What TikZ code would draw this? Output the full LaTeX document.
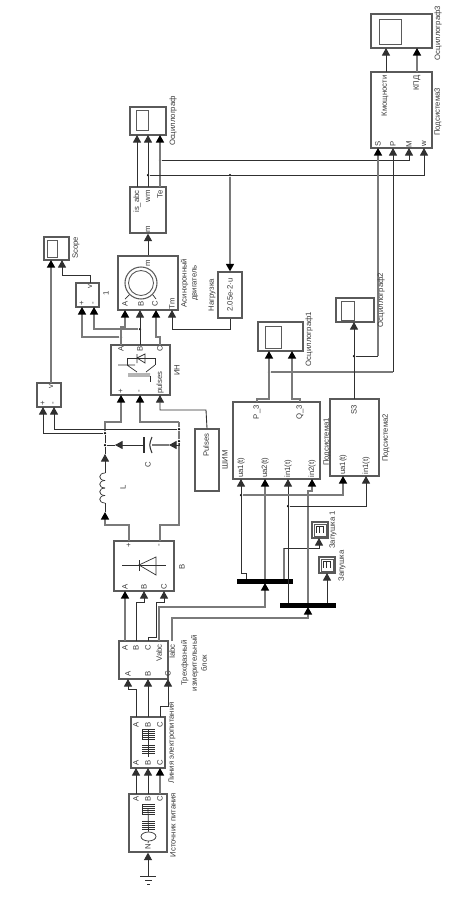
\documentclass[tikz,border=0pt]{standalone}
\usepackage{fontspec}
\setmainfont{Liberation Sans}
\usetikzlibrary{positioning,arrows.meta,fit,calc,shapes.geometric}
\definecolor{wire900}{HTML}{303030}
\definecolor{wire500}{HTML}{7A7A7A}
\definecolor{edge600}{HTML}{5A5A5A}
\definecolor{text800}{HTML}{3A3A3A}
\tikzset{
  blk/.style   ={draw=edge600, line width=0.7pt, fill=white, inner sep=0pt},
  scr/.style   ={draw=edge600, line width=0.5pt, fill=white, inner sep=0pt},
  barb/.style  ={draw=black, fill=black, inner sep=0pt},
  ar/.style    ={-{Triangle[length=1.5mm,width=1.6mm]}, draw=wire900, line width=0.5pt},
  arg/.style   ={-{Triangle[length=1.5mm,width=1.6mm,color=black]}, draw=wire500, line width=0.8pt},
  wr/.style    ={draw=wire900, line width=0.5pt},
  wrg/.style   ={draw=wire500, line width=0.8pt},
  sym/.style   ={draw=wire900, line width=0.4pt},
  jun/.style   ={circle, fill=black, inner sep=0pt, minimum size=0.5mm},
  lbl/.style   ={font=\fontsize{4.4}{5.7}\selectfont, text=text800, rotate=90, inner sep=0pt, align=center}
}
\begin{document}
\begin{tikzpicture}[x=0.2mm,y=-0.2mm]
\useasboundingbox (0,0) rectangle (453,903);
\fill[white] (0,0) rectangle (453,903);

% blocks, bottom of the page first
\node[blk,fit={(129,794)(167,852)}] (source) {};
\node[blk,fit={(131,717)(165,768)}] (line) {};
\node[blk,fit={(119,641)(168,679)}] (meas) {};
\node[blk,fit={(114,541)(174,591)}] (rect) {};
\node[blk,fit={(111,345)(170,395)}] (inv) {};
\node[blk,fit={(195,429)(219,491)}] (pwm) {};
\node[blk,fit={(118,256)(178,310)}] (motor) {};
\node[blk,fit={(130,187)(166,233)}] (dmux) {};
\node[blk,fit={(218,272)(242,318)}] (load) {};
\node[blk,fit={(76,283)(99,307)}] (vm1) {};
\node[blk,fit={(37,383)(61,407)}] (vm2) {};
\node[blk,fit={(233,402)(320,479)}] (sub1) {};
\node[blk,fit={(330,399)(379,476)}] (sub2) {};
\node[blk,fit={(371,72)(432,148)}] (sub3) {};
\node[barb,fit={(237,579)(292,583)}] (bus1) {};
\node[barb,fit={(280,603)(335,607)}] (bus2) {};

% scopes
\node[blk,fit={(44,237)(69,260)}] (scope) {};
\node[scr,fit={(47,240)(57,257)}] (scopes) {};
\node[blk,fit={(130,107)(166,135)}] (osc) {};
\node[scr,fit={(136,110)(148,130)}] (oscs) {};
\node[blk,fit={(258,322)(303,351)}] (osc1) {};
\node[scr,fit={(265,326)(281,348)}] (osc1s) {};
\node[blk,fit={(336,298)(374,322)}] (osc2) {};
\node[scr,fit={(341,301)(354,320)}] (osc2s) {};
\node[blk,fit={(371,14)(432,48)}] (osc3) {};
\node[scr,fit={(379,19)(401,44)}] (osc3s) {};
\node[blk,fit={(312,522)(328,538)}] (zap1) {};
\node[scr,fit={(314,524)(326,536)}] (zap1s) {};
\node[blk,fit={(319,557)(335,573)}] (zap) {};
\node[scr,fit={(321,559)(333,571)}] (zaps) {};
\foreach \xa in {316,319.5,323} \draw[sym] (\xa,526) -- (\xa,533);
\draw[sym] (316,526) -- (323,526);
\foreach \xa in {323,326.5,330} \draw[sym] (\xa,561) -- (\xa,568);
\draw[sym] (323,561) -- (330,561);

% junctions
\node[jun] (jTe) at (160,160) {};
\node[jun] (jwm) at (148,175) {};
\node[jun] (jload) at (230,175) {};
\node[jun] (jA) at (121,337) {};
\node[jun] (jB) at (140,329) {};
\node[jun] (jP) at (269,372) {};
\node[jun] (jS) at (354,356) {};
\node[jun] (jua) at (241,495) {};
\node[jun] (jia) at (288,506) {};
\node[jun] (jplus) at (105,433) {};
\node[jun] (jcap) at (105,445) {};
\node[jun] (jminus) at (179,429) {};
\node[jun] (jcapn) at (179,441) {};

% ground and source
\coordinate (gnd) at (148,876);
\draw[sym] (140,876) -- (156,876) (145,880) -- (152,880) (147,884) -- (150,884);
\draw[ar] (gnd) -- (source.south);
\draw[ar] (136,794) -- (136,768);
\draw[ar] (148,794) -- (148,768);
\draw[arg] (160,794) -- (160,768);
\draw[ar] (136,717) -- (136,689) -| (128,679);
\draw[ar] (148,717) -- (148,679);
\draw[ar] (160,717) -- (160,706) -| (168,679);
\draw[arg] (125,641) -- (125,591);
\draw[ar] (136,641) -- (136,602) -| (144,591);
\draw[ar] (148,641) -- (148,637) -| (156,602) -| (164,591);
\draw[arg] (159,641) -- (159,607) -| (265,583);
\draw[arg] (172,641) -- (172,618) -| (308,607);

% source and line symbols
\node[draw=wire900,line width=0.4pt,ellipse,minimum width=3mm,minimum height=1.8mm,inner sep=0pt,fill=white] (emf) at (148.5,836.5) {};
\draw[sym] (148,843) -- (emf.south) (emf.north) -- (148,808);
\draw[sym] (148,729) -- (148,757);
\foreach \ya in {821,823,825,827,829} \draw[sym] (142,\ya) -- (155,\ya);
\foreach \ya in {804,806,808,810,812,814} \draw[sym] (142,\ya) -- (155,\ya);
\draw[sym] (142,804) -- (142,814);
\foreach \ya in {745,747,749,751,753} \draw[sym] (142,\ya) -- (155,\ya);
\foreach \ya in {729,731,733,735,737,739} \draw[sym] (142,\ya) -- (155,\ya);
\draw[sym] (142,729) -- (142,739);

% rectifier symbol
\draw[sym] (122,565) -- (166,565) (139,560) -- (139,571);
\draw[sym] (139,565) -- (156,557) -- (156,575) -- cycle;

% dc link
\coordinate (Ltop) at (105,473);
\coordinate (Lbot) at (105,503);
\draw[arg] (129,541) -- (129,525) -| (105,512);
\draw[wr] (105,512) -- (Lbot);
\foreach \ya in {473,480.5,488,495.5}
  \draw[sym] (105,\ya) .. controls (98,\ya) and (98,\ya+7.5) .. (105,\ya+7.5);
\draw[ar] (Ltop) -- (105,454);
\draw[wr] (105,454) -- (jcap) -- (jplus);
\draw[arg] (jplus) -- (105,422) -| (121,395);
\draw[wrg] (160,541) -- (160,525) -| (jcapn);
\draw[wrg] (jcapn) -- (jminus) -- (179,422);
\draw[arg] (179,422) -| (140,395);
\draw[ar] (pwm.north) -- (206,410) -| (160,395);
\draw[ar] (jcapn) -- (179,445) -- (169,445);
\draw[wrg] (169,445) -- (152,445);
\draw[ar] (144,445) -- (115,445);
\draw[wr] (115,445) -- (jcap);
\draw[sym,line width=0.6pt] (144,437) -- (144,453);
\draw[sym,line width=0.6pt] (152,437) .. controls (149,445) .. (152,453);

% voltmeters
\draw[ar] (jplus) -- (43,433) -- (43,407);
\draw[wr] (jminus) -- (54,429);
\draw[ar] (54,429) -- (54,407);
\draw[arg] (51,383) -- (51,260);
\draw[ar] (90,283) -- (90,275) -| (62,260);
\draw[arg] (jA) -| (82,307);
\draw[arg] (jB) -| (94,307);

% inverter to motor
\draw[arg] (121,345) -- (121,327) -| (125,310);
\draw[ar] (140,345) -- (140,310);
\draw[arg] (160,345) -- (160,337) -| (156,310);
\draw[ar] (load.south) -- (230,329) -| (172,310);
\draw[ar] (motor.north) -- (dmux.south);

% inverter symbol
\draw[sym] (127,365) -- (127,358) -- (155,358) -- (155,365);
\draw[sym] (137,354) -- (137,363) (137,358) -- (145,354) -- (145,363) -- cycle;
\draw[sym] (118,365) -- (135,365) (127,365) -- (137,372);
\draw[sym] (155,365) -- (146,372) (128,374) -- (150,374) (128,376) -- (150,376);
\draw[sym] (150,376) -- (150,382);

% motor symbol
\node[draw=edge600,circle,line width=0.6pt,minimum size=6.4mm,inner sep=0pt] (rotor) at (141,283) {};
\node[draw=edge600,circle,line width=0.5pt,minimum size=5mm,inner sep=0pt] (stator) at (141,283) {};
\draw[sym] (125,299) -- (rotor.south west) (156,299) -- (rotor.south east);

% outputs of the motor measurement
\draw[ar] (137,187) -- (137,135);
\draw[ar] (148,187) -- (148,135);
\draw[arg] (160,187) -- (160,135);
\draw[ar] (jTe) -| (409,148);
\draw[ar] (jwm) -| (424,148);
\draw[arg] (jload) -- (load.north);

% buses
\draw[ar] (246,579) -- (246,573) -| (241,479);
\draw[arg] (265,579) -- (265,479);
\draw[wrg] (284,579) -- (284,548);
\draw[ar] (284,548) -| (319,538);
\draw[ar] (288,603) -- (288,479);
\draw[arg] (308,603) -- (308,491) -| (312,479);
\draw[ar] (327,603) -- (327,573);
\draw[arg] (jua) -| (343,476);
\draw[ar] (jia) -| (366,476);

% subsystem outputs
\draw[arg] (257,402) -- (257,399) -| (269,351);
\draw[arg] (300,402) -- (300,399) -| (292,351);
\draw[wrg] (jP) -- (393,372);
\draw[ar] (393,372) -- (393,148);
\draw[ar] (354,399) -- (354,322);
\draw[wr] (jS) -- (378,356);
\draw[arg] (378,356) -- (378,148);
\draw[ar] (386,72) -- (386,48);
\draw[arg] (417,72) -- (417,48);

% port texts
\foreach \nm/\xa/\ya/\tx in {
  sa/136/799/A, sb/148/799/B, sc/160/799/C, sn/148/847/N,
  la/136/725/A, lb/148/725/B, lc/160/725/C, lai/136/763/A, lbi/148/763/B, lci/160/763/C,
  ma/128/674/A, mb/148/674/B, mc/168/674/C, mao/125/648/A, mbo/136/648/B, mco/148/648/C,
  ra/125/587/A, rb/144/587/B, rc/164/587/C, rp/129/545/+, rn/160/545/-,
  ia/121/349/A, ib/140/349/B, ic/160/349/C, ip/121/391/+, in/140/391/-,
  da/125/304/A, db/141/304/B, dc/155/304/C, dm/148/263/m,
  ym/148/229/m, vi/90/287/v, vp/82/303/+, vn/94/303/-, wi/51/387/v, wp/43/403/+, wn/54/403/-,
  us/378/144/S, up/393/144/P, um/409/144/M, uw/424/144/w}
  \node[lbl] (t\nm) at (\xa,\ya) {\tx};
\node[lbl] (tTm) at (172,304) {Tm};
\node[lbl,anchor=east] (tis) at (137,190) {is\_abc};
\node[lbl,anchor=east] (tw) at (148,190) {wm};
\node[lbl,anchor=east] (tte) at (160,190) {Te};
\node[lbl,anchor=east] (tvabc) at (159,644) {Vabc};
\node[lbl,anchor=east] (tiabc) at (172,644) {Iabc};
\node[lbl,anchor=west] (tpul) at (160,394) {pulses};
\node[lbl,anchor=east] (tpuls) at (206,433) {Pulses};
\node[lbl] (tload) at (230,295) {2.05e-2·u};
\node[lbl,anchor=east] (tp3) at (257,405) {P\_3};
\node[lbl,anchor=east] (tq3) at (300,405) {Q\_3};
\node[lbl,anchor=east] (ts3) at (354,405) {S3};
\node[lbl,anchor=west] (tua1) at (241,478) {ua1(t)};
\node[lbl,anchor=west] (tua2) at (265,478) {ua2(t)};
\node[lbl,anchor=west] (tin1) at (288,478) {in1(t)};
\node[lbl,anchor=west] (tin2) at (312,478) {in2(t)};
\node[lbl,anchor=west] (tub) at (343,475) {ua1(t)};
\node[lbl,anchor=west] (tib) at (366,475) {in1(t)};
\node[lbl,anchor=east] (tkm) at (385,75) {Кмощности};
\node[lbl,anchor=east] (tkpd) at (417,75) {КПД};

% block names
\node[lbl] (nsource) at (173,825) {Источник питания};
\node[lbl] (nline) at (172,743) {Линия электропитания};
\node[lbl] (nmeas) at (194,663) {Трехфазный\\измерительный\\блок};
\node[lbl] (nrect) at (182,567) {В};
\node[lbl] (nl) at (123,487) {L};
\node[lbl] (nc) at (148,465) {C};
\node[lbl] (npwm) at (225,460) {ШИМ};
\node[lbl] (ninv) at (177,370) {ИН};
\node[lbl] (nmotor) at (189.5,283) {Асинхронный\\двигатель};
\node[lbl] (nload) at (212,295) {Нагрузка};
\node[lbl] (nvm) at (106,293) {1};
\node[lbl] (nscope) at (76,248) {Scope};
\node[lbl] (nosc) at (173,121) {Осциллограф};
\node[lbl] (nosc1) at (309,339) {Осциллограф1};
\node[lbl] (nosc2) at (381,300) {Осциллограф2};
\node[lbl] (nosc3) at (438,33) {Осциллограф3};
\node[lbl] (nsub1) at (327,442) {Подсистема1};
\node[lbl] (nsub2) at (386,438) {Подсистема2};
\node[lbl] (nsub3) at (438,112) {Подсистема3};
\node[lbl] (nzap1) at (333,530) {Запушка 1};
\node[lbl] (nzap) at (342,566) {Запушка};
\end{tikzpicture}
\end{document}
